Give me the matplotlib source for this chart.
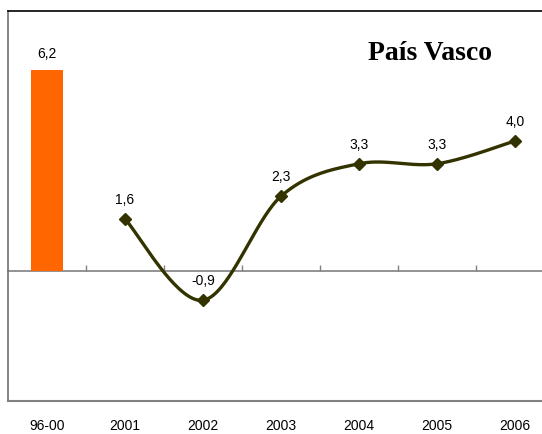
import numpy as np
import matplotlib
matplotlib.use("Agg")
import matplotlib.pyplot as plt

plt.rcParams.update({'font.family': 'Liberation Sans',
                     'font.size': 10})

# data
categories = ['96-00', '2001', '2002', '2003', '2004', '2005', '2006']
bar_value = 6.2
years_values = [1.6, -0.9, 2.3, 3.3, 3.3, 4.0]
title = 'País Vasco'

bar_color = '#FF6600'
line_color = '#333300'


def fmt(v):
    return ('%.1f' % v).replace('.', ',')


def smooth(xs, ys, n=40):
    # Excel-like smoothed line (Catmull-Rom as cubic bezier)
    xs = np.asarray(xs, float)
    ys = np.asarray(ys, float)
    px, py = [], []
    m = len(xs)
    for i in range(m - 1):
        i0 = max(i - 1, 0)
        i3 = min(i + 2, m - 1)
        c1x = xs[i] + (xs[i + 1] - xs[i0]) / 6
        c1y = ys[i] + (ys[i + 1] - ys[i0]) / 6
        c2x = xs[i + 1] - (xs[i3] - xs[i]) / 6
        c2y = ys[i + 1] - (ys[i3] - ys[i]) / 6
        t = np.linspace(0, 1, n)
        a, b, c, d = (1 - t) ** 3, 3 * (1 - t) ** 2 * t, 3 * (1 - t) * t ** 2, t ** 3
        px.extend(a * xs[i] + b * c1x + c * c2x + d * xs[i + 1])
        py.extend(a * ys[i] + b * c1y + c * c2y + d * ys[i + 1])
    return px, py


fig = plt.figure(figsize=(5.42, 4.35), dpi=100)
ax = fig.add_axes([8 / 542, 33 / 435, 546 / 542, 390 / 435])
ymin, ymax = -4, 8
ax.set_xlim(-0.5, 6.5)
ax.set_ylim(ymin, ymax)

# bar for the period
ax.bar([0], [bar_value], width=0.4, color=bar_color, zorder=2)
ax.annotate(fmt(bar_value), (0, bar_value), xytext=(0, 12), textcoords='offset points',
            ha='center', va='center', fontsize=10)

# yearly line
xl = np.arange(1, len(years_values) + 1)
sx, sy = smooth(xl, years_values)
ax.plot(sx, sy, color=line_color, lw=2.4, zorder=3, solid_capstyle='round')
ax.plot(xl, years_values, ls='none', marker='D', ms=6, color=line_color, zorder=4)
for x, v in zip(xl, years_values):
    ax.annotate(fmt(v), (x, v), xytext=(0, 14.5), textcoords='offset points',
                ha='center', va='center', fontsize=10)

# category labels
ax.set_xticks(range(len(categories)))
ax.set_xticklabels(categories)
ax.tick_params(axis='x', length=0, pad=12, labelsize=10)
ax.set_yticks([])

# zero line with ticks between categories
zero = (0 - ymin) / (ymax - ymin)
sec = ax.secondary_xaxis(zero)
sec.set_xticks(np.arange(0.5, 6.5, 1))
sec.tick_params(axis='x', direction='in', length=4, color='#808080', labelbottom=False, width=1)
sec.spines['bottom'].set_color('#808080')
sec.spines['bottom'].set_linewidth(1.2)

ax.spines['top'].set_color('black')
ax.spines['top'].set_linewidth(1.2)
ax.spines['left'].set_color('#707070')
ax.spines['left'].set_linewidth(1.2)
ax.spines['bottom'].set_color('#808080')
ax.spines['bottom'].set_linewidth(1.5)
ax.spines['right'].set_visible(False)

fig.text(430 / 542, 1 - 53 / 435, title, fontfamily='Liberation Serif', fontweight='bold',
         fontsize=20, ha='center', va='center')

fig.savefig('out.png', dpi=100)
